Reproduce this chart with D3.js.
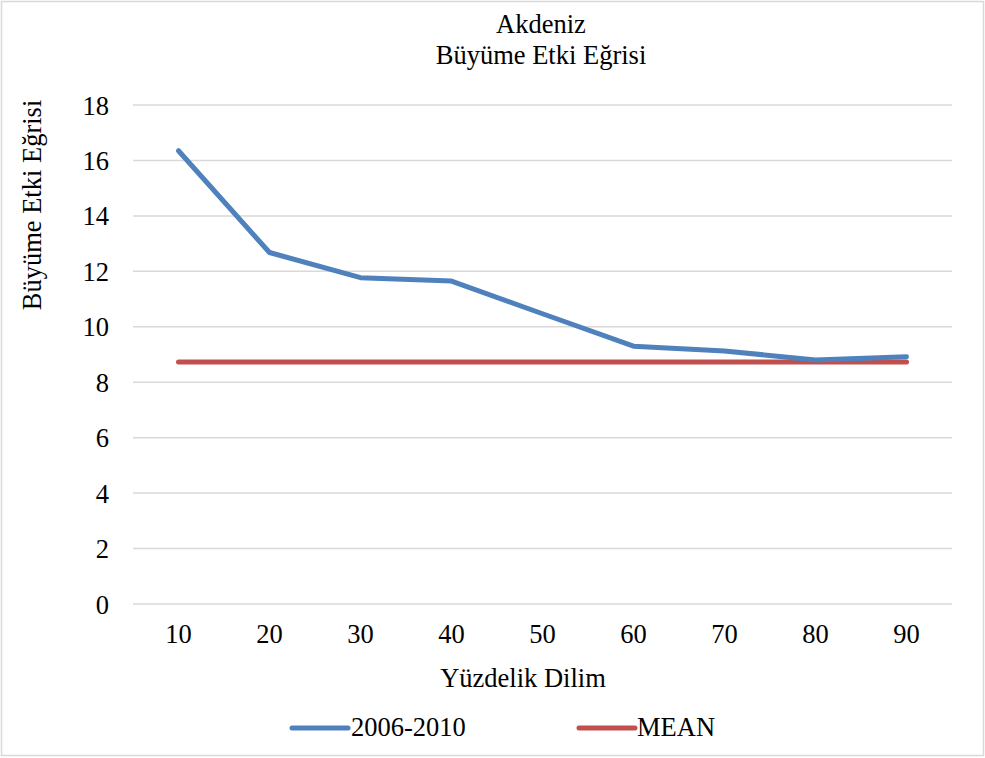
<!DOCTYPE html>
<html>
<head>
<meta charset="utf-8">
<script src="https://cdn.jsdelivr.net/npm/d3@7"></script>
<style>
html,body{margin:0;padding:0;background:#fff;}
svg{display:block;}
</style>
</head>
<body>
<svg id="chart" width="985" height="758"></svg>
<script>
const categories = ["10","20","30","40","50","60","70","80","90"];
const series2006 = [16.35, 12.68, 11.77, 11.65, 10.47, 9.30, 9.13, 8.80, 8.92];
const meanValues = [8.73, 8.73, 8.73, 8.73, 8.73, 8.73, 8.73, 8.73, 8.73];
const yTicks = [0,2,4,6,8,10,12,14,16,18];
const seriesNames = ["2006-2010","MEAN"];
const titleLines = ["Akdeniz","Büyüme Etki Eğrisi"];
const xTitle = "Yüzdelik Dilim";
const yTitle = "Büyüme Etki Eğrisi";

const FONT = '"Liberation Serif"';
const FS = "26.5px";
const svg = d3.select("#chart");
const W = 985, H = 758;
const plot = {left:133, right:952, top:105, bottom:604};
const blue = "#4f81bd", red = "#c0504d";

svg.append("rect").attr("x",1.5).attr("y",1.5).attr("width",W-3).attr("height",H-4)
  .attr("fill","#fff").attr("stroke","#d9d9d9").attr("stroke-width",1.5);

const x = d3.scaleBand().domain(categories).range([plot.left, plot.right]);
const y = d3.scaleLinear().domain([0,18]).range([plot.bottom, plot.top]);
const cx = c => x(c) + x.bandwidth()/2;

// gridlines
svg.append("g").selectAll("line").data(yTicks).join("line")
  .attr("x1",plot.left).attr("x2",plot.right)
  .attr("y1",d=>y(d)).attr("y2",d=>y(d))
  .attr("stroke","#d9d9d9").attr("stroke-width",1.5);

// y axis labels
const yAxis = d3.axisLeft(y).tickValues(yTicks).tickSize(0).tickPadding(0);
const gy = svg.append("g").attr("transform",`translate(${plot.left-24},0)`).call(yAxis);
gy.attr("font-family","Liberation Serif").style("font-family",FONT).attr("font-size",26.5);
gy.select(".domain").remove();
gy.selectAll("text").attr("font-family","Liberation Serif").style("font-size",FS).style("font-family",FONT).attr("fill","#000").attr("dy","0.34em");

// x axis labels
const xAxis = d3.axisBottom(x).tickSize(0).tickPadding(0);
const gx = svg.append("g").attr("transform",`translate(0,${plot.bottom+20})`).call(xAxis);
gx.attr("font-family","Liberation Serif").style("font-family",FONT).attr("font-size",26.5);
gx.select(".domain").remove();
gx.selectAll("text").attr("font-family","Liberation Serif").style("font-size",FS).style("font-family",FONT).attr("fill","#000").attr("dy","0.71em");

// lines
const line = d3.line().x((d,i)=>cx(categories[i])).y(d=>y(d));
svg.append("path").datum(meanValues).attr("d",line).attr("fill","none")
  .attr("stroke",red).attr("stroke-width",5).attr("stroke-linecap","round").attr("stroke-linejoin","round");
svg.append("path").datum(series2006).attr("d",line).attr("fill","none")
  .attr("stroke",blue).attr("stroke-width",5).attr("stroke-linecap","round").attr("stroke-linejoin","round");

function txt(sel){ return sel.style("font-family",FONT).style("font-size",FS).attr("fill","#000"); }

// title
txt(svg.append("g").selectAll("text").data(titleLines).join("text")
  .attr("x",541).attr("y",(d,i)=>33+i*31).attr("text-anchor","middle").text(d=>d));

// axis titles
txt(svg.append("text").attr("x",523).attr("y",687).attr("text-anchor","middle").text(xTitle));
txt(svg.append("text").attr("transform","translate(41,205) rotate(-90)").attr("text-anchor","middle").text(yTitle));

// legend
const legend = [
  {name:seriesNames[0], color:blue, x0:292, x1:348, tx:351},
  {name:seriesNames[1], color:red, x0:579, x1:635, tx:637}
];
const lg = svg.append("g");
legend.forEach(l=>{
  lg.append("line").attr("x1",l.x0).attr("x2",l.x1).attr("y1",728).attr("y2",728)
    .attr("stroke",l.color).attr("stroke-width",5).attr("stroke-linecap","round");
  txt(lg.append("text").attr("x",l.tx).attr("y",736).text(l.name));
});
</script>
</body>
</html>
